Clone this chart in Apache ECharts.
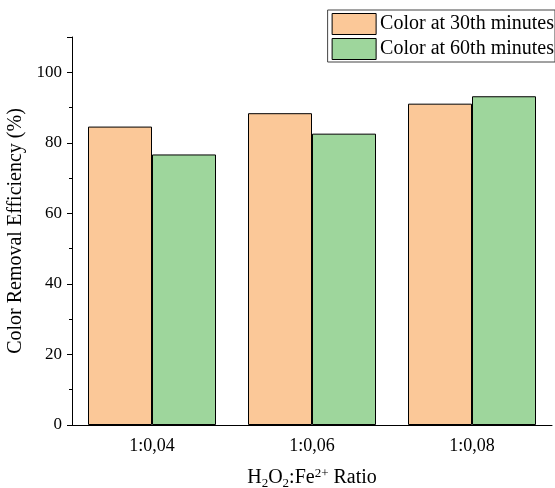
<!DOCTYPE html>
<html><head><meta charset="utf-8">
<script src="https://cdn.jsdelivr.net/npm/echarts@6/dist/echarts.min.js"></script>
<style>html,body{margin:0;padding:0;background:#fff}#c{width:555px;height:488px}</style>
</head><body><div id="c"></div>
<script>
const categories = ['1:0,04', '1:0,06', '1:0,08'];
const color30 = [84.6, 88.4, 91.1];
const color60 = [76.7, 82.6, 93.2];
const seriesNames = ['Color at 30th minutes', 'Color at 60th minutes'];
const yTicks = [0, 20, 40, 60, 80, 100];

const font = 'Liberation Serif, Times New Roman, serif';
const chart = echarts.init(document.getElementById('c'), null, {renderer: 'canvas'});
chart.setOption({
  animation: false,
  textStyle: {fontFamily: font},
  legend: {
    orient: 'vertical', right: 0, top: 10,
    icon: 'rect',
    itemWidth: 44, itemHeight: 21, itemGap: 3,
    padding: [3, 1, 2, 4],
    borderColor: '#444', borderWidth: 1,
    textStyle: {fontFamily: font, fontSize: 20, color: '#000', padding: [0, 0, 0, -1]},
    itemStyle: {borderColor: '#000', borderWidth: 1},
    data: seriesNames
  },
  grid: {left: 72, right: 3, top: 37, bottom: 63, containLabel: false, outerBoundsMode: 'none'},
  xAxis: [{
    type: 'category', data: categories,
    axisLine: {lineStyle: {color: '#000', width: 1}},
    axisTick: {alignWithLabel: true, length: 8, lineStyle: {color: '#000'}},
    axisLabel: {fontFamily: font, fontSize: 18, color: '#000', margin: 12},
    name: '{n|H}{s|2}{n|O}{s|2}{n|:Fe}{p|2+}{n| Ratio}',
    nameLocation: 'middle', nameGap: 42,
    nameTextStyle: {
      fontFamily: font, fontSize: 20, color: '#000',
      rich: {
        n: {fontFamily: font, fontSize: 20, color: '#000', lineHeight: 22},
        s: {fontFamily: font, fontSize: 13, color: '#000', lineHeight: 22, padding: [11, 0, 0, 0]},
        p: {fontFamily: font, fontSize: 13, color: '#000', lineHeight: 22, padding: [0, 0, 9, 0]}
      }
    }
  }, {
    type: 'category', data: categories, position: 'bottom',
    axisLine: {show: false},
    axisTick: {length: 4, lineStyle: {color: '#000'}},
    axisLabel: {show: false}
  }],
  yAxis: {
    type: 'value', min: 0, max: 110, interval: 20,
    axisLine: {show: true, lineStyle: {color: '#000'}},
    axisTick: {show: true, length: 5, lineStyle: {color: '#000'}},
    minorTick: {show: true, splitNumber: 2, length: 3, lineStyle: {color: '#000'}},
    splitLine: {show: false},
    axisLabel: {fontFamily: font, fontSize: 17, color: '#000', margin: 10,
      formatter: v => yTicks.includes(v) ? String(v) : ''},
    name: 'Color Removal Efficiency (%)',
    nameLocation: 'middle', nameGap: 42, nameRotate: 90,
    nameTextStyle: {fontFamily: font, fontSize: 20, color: '#000'}
  },
  series: [
    {name: seriesNames[0], type: 'bar', data: color30, barGap: '0%', barCategoryGap: '20%',
     itemStyle: {color: '#FBC898', borderColor: '#000', borderWidth: 1}},
    {name: seriesNames[1], type: 'bar', data: color60, barGap: '0%', barCategoryGap: '20%',
     itemStyle: {color: '#9ED69C', borderColor: '#000', borderWidth: 1}}
  ]
});
</script></body></html>
